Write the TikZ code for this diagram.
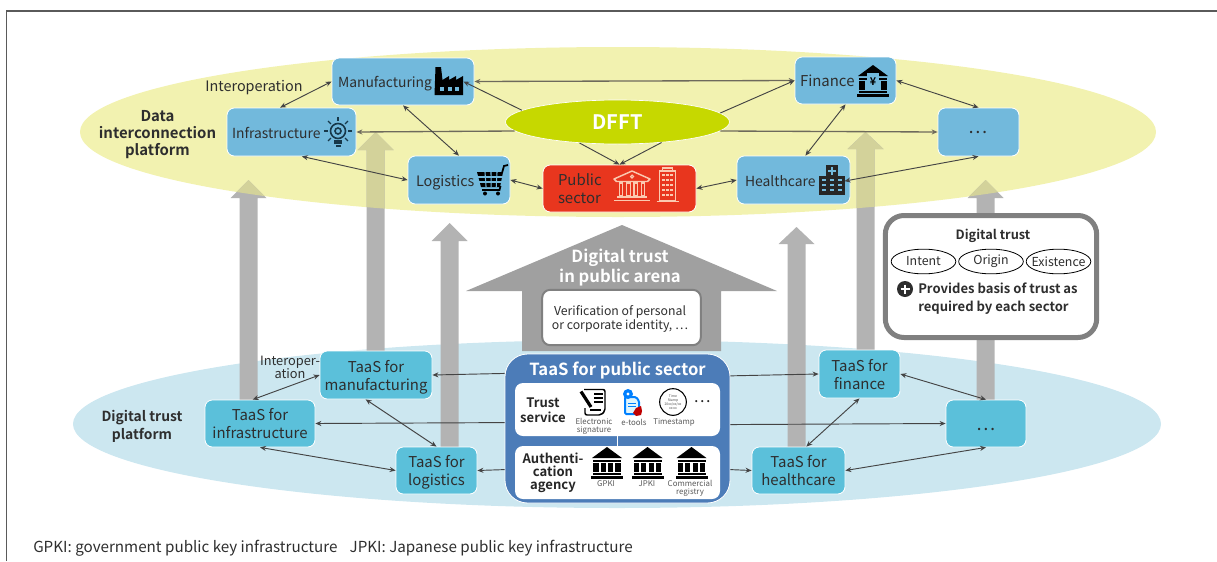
\documentclass[tikz,border=0pt]{standalone}
\usepackage{fontspec}
\setmainfont{Noto Sans CJK JP}[BoldFont={Noto Sans CJK JP Bold}]
\usetikzlibrary{arrows.meta,shapes.geometric,calc}
\definecolor{txt}{HTML}{2E2E2E}
\definecolor{yel}{HTML}{F2F2B0}
\definecolor{lblue}{HTML}{CCE7F0}
\definecolor{topbox}{HTML}{72B9DC}
\definecolor{botbox}{HTML}{5BC0DA}
\definecolor{redbox}{HTML}{E8361E}
\definecolor{dfftc}{HTML}{C6D800}
\definecolor{pubblue}{HTML}{4C7CB8}
\definecolor{arrgray}{HTML}{B3B3B3}
\definecolor{arrolive}{HTML}{D3D29A}
\definecolor{housegray}{HTML}{A0A0A0}
\definecolor{framegray}{HTML}{808080}
\definecolor{conncol}{HTML}{444444}
\definecolor{longcol}{HTML}{6E6A5C}
\definecolor{salmon}{HTML}{FBC9B0}
\definecolor{bulbc}{HTML}{17384A}
\newcommand{\grayshaft}[4]{(#1-9,#4) -- (#1-9,#3) -- (#1-18,#3) -- (#1,#2) -- (#1+18,#3) -- (#1+9,#3) -- (#1+9,#4) -- cycle}
\tikzset{
  topn/.style n args={4}{draw=white,line width=.6pt,fill=topbox,rounded corners=5.5pt,minimum height=#2,text width=#3,inner xsep=#4,inner ysep=0pt,align=left,text=txt,text height=11pt,text depth=1.7pt,font=\fontsize{10.4pt}{13.5pt}\selectfont},
  botn/.style n args={2}{draw=white,line width=.6pt,fill=botbox,rounded corners=5.5pt,minimum width=#1,minimum height=#2,inner sep=0pt,align=center,text=txt,text height=24.9pt,text depth=1.7pt,font=\fontsize{11.2pt}{13.5pt}\selectfont},
  conn/.style={draw=conncol,line width=.7pt,{Stealth[length=4.5pt,width=3.8pt]}-{Stealth[length=4.5pt,width=3.8pt]}},
  onearr/.style={draw=conncol,line width=.7pt,-{Stealth[length=4.5pt,width=3.8pt]}},
  longconn/.style={draw=longcol,line width=1pt},
  lab/.style={inner sep=0pt,align=center,text=txt},
  smallcap/.style={inner sep=0pt,align=center,text=black!65,font=\fontsize{5.9pt}{6.2pt}\selectfont},
  whitebox/.style={fill=white,rounded corners=6pt,minimum width=153.75pt,inner sep=0pt},
  trustel/.style={ellipse,draw=black,line width=.6pt,fill=white,inner sep=0pt,minimum width=48.5pt,minimum height=18.5pt,text=txt,font=\fontsize{9.3pt}{11pt}\selectfont},
  pics/bankicon/.style={code={
    \fill[#1] (-15,-5) -- (0,-16) -- (15,-5) -- cycle;
    \fill[#1] (-14,-3.5) rectangle (14,-1.5);
    \foreach \cx in {-11,-3.7,3.7,11}{\fill[#1] (\cx-2.6,-.5) rectangle (\cx+2.6,9);}
    \fill[#1] (-14,10) rectangle (14,12);
    \fill[#1] (-16,13) rectangle (16,16);
  }},
  pics/factoryicon/.style={code={
    \fill[black] (-14.5,14) -- (-13.5,-14) -- (-8,-14) -- (-6.5,-1) -- (0,-5) -- (0,-1) -- (7,-5) -- (7,-1) -- (14,-5) -- (14,14) -- cycle;
    \foreach \cx in {-7,0.5,8}{\fill[topbox] (\cx-2,6) rectangle (\cx+2,10);}
  }},
  pics/bulbicon/.style={code={
    \draw[bulbc,line width=1.2pt] (0,0) circle (7.5);
    \draw[bulbc,line width=1.2pt] (0,0) circle (3);
    \foreach \a in {0,45,135,180,225,315}{\draw[bulbc,line width=1pt] (\a:10) -- (\a:14);}
    \draw[bulbc,line width=1pt] (0,-10) -- (0,-14);
    \fill[bulbc] (-4,9) rectangle (4,13);
    \fill[bulbc] (-2.5,14) rectangle (2.5,16);
  }},
  pics/carticon/.style={code={
    \fill[black] (-15,-8) -- (11,-8) -- (8,7) -- (-11,7) -- cycle;
    \foreach \cx in {-7,-1,5}{\draw[topbox,line width=.8pt] (\cx,-8) -- (\cx*.85,7);}
    \foreach \cy in {-3,2}{\draw[topbox,line width=.8pt] (-15,\cy) -- (11,\cy);}
    \draw[black,line width=1.3pt] (10,-7) -- (12,-14) -- (16,-15);
    \draw[black,line width=1.3pt] (8.5,6) -- (7.5,10) -- (-10,10);
    \fill[black] (-7,13.5) circle (2);
    \fill[black] (6,13.5) circle (2);
  }},
  pics/hospicon/.style={code={
    \fill[black!85] (-13,-4) rectangle (13,15);
    \fill[black!85] (-6,-15) rectangle (6,-3);
    \fill[topbox] (-1.3,-13) rectangle (1.3,-5);
    \fill[topbox] (-4,-10.3) rectangle (4,-7.7);
    \foreach \cx in {-8,0,8}\foreach \cy in {0,5,10}{\fill[topbox] (\cx-2,\cy-1.2) rectangle (\cx+2,\cy+1.2);}
  }},
  pics/pubbank/.style={code={
    \draw[salmon,line width=1.1pt,line join=round] (-18,-7) -- (0,-15) -- (18,-7) -- (15.5,-4.5) -- (-15.5,-4.5) -- cycle;
    \draw[salmon,line width=.8pt] (0,-9.5) circle (1.5);
    \foreach \cx in {-11,-3.7,3.7,11}{\draw[salmon,line width=.9pt] (\cx-1.8,-3) rectangle (\cx+1.8,10);}
    \draw[salmon,line width=1pt] (-15,11) -- (15,11);
    \draw[salmon,line width=1.2pt] (-18,14.5) -- (18,14.5);
  }},
  pics/pubtower/.style={code={
    \draw[salmon,line width=.9pt] (-8,-14) -- (8,-14) -- (8,16) -- (-8,16) -- cycle;
    \draw[salmon,line width=.8pt] (-5,-14) -- (-5,-17) -- (5,-17) -- (5,-14);
    \foreach \cx in {-4,0,4}\foreach \cy in {-10,-5,0,5,10}{\fill[salmon] (\cx-1.2,\cy-1.4) rectangle (\cx+1.2,\cy+1.4);}
    \draw[salmon,line width=1.2pt] (-11,16.5) -- (11,16.5);
  }},
}
\begin{document}
\begin{tikzpicture}[x=.75pt,y=-.75pt]
\useasboundingbox (0,0) rectangle (1217,561);
% frame
\draw[color=framegray!70!black,line width=.8pt] (6.5,561) -- (6.5,11) -- (1217,11);
% platforms
\fill[yel] (618,132) ellipse [x radius=538,y radius=85];
\fill[lblue] (617,424) ellipse [x radius=544,y radius=84];
% tall arrows
\fill[arrgray] \grayshaft{248.5}{180}{198}{400};
\fill[arrgray] \grayshaft{375.5}{132}{150}{351};
\fill[arrgray] \grayshaft{449.5}{223}{241}{447};
\fill[arrgray] \grayshaft{796.5}{227}{244}{447};
\fill[arrgray] \grayshaft{865.5}{132}{149}{350};
\fill[arrgray] \grayshaft{985.5}{180}{198}{400};
\begin{scope}
  \clip (618,132) ellipse [x radius=538,y radius=85];
  \fill[arrolive] \grayshaft{248.5}{180}{198}{400};
  \fill[arrolive] \grayshaft{375.5}{132}{150}{351};
  \fill[arrolive] \grayshaft{865.5}{132}{149}{350};
  \fill[arrolive] \grayshaft{985.5}{180}{198}{400};
\end{scope}
% house arrow
\fill[housegray] (522,351) -- (522,291) -- (466,291) -- (622,225) -- (777,291) -- (721,291) -- (721,351) -- cycle;
\node[lab,text=white,font=\fontsize{12.5pt}{15pt}\selectfont\bfseries] (housetxt) at (620,267.5) {Digital trust\\in public arena};
\node[draw=framegray,line width=1.5pt,fill=white,rounded corners=6pt,minimum width=119pt,minimum height=41.5pt,inner sep=0pt] (verif) at (621.5,317.5) {};
\node[lab,font=\fontsize{9.2pt}{10.5pt}\selectfont] (veriftxt) at (620,319) {Verification of personal\\or corporate identity, …};
% upper nodes
\node[topn={142}{35.25pt}{97.5pt}{4.5pt}] (mfg) at (403,81.5) {Manufacturing};
\node[topn={129}{36pt}{89.25pt}{3.75pt}] (infra) at (291.5,132) {Infrastructure};
\node[topn={102}{36pt}{64.5pt}{6pt},font=\fontsize{10.8pt}{13.5pt}\selectfont] (logi) at (459,180) {Logistics};
\node[topn={153}{35.25pt}{92.25pt}{11.25pt},fill=redbox,text height=9.5pt,text depth=13.3pt,font=\fontsize{11.2pt}{13.5pt}\selectfont] (pub) at (619.5,188.5) {Public\\sector};
\node[topn={113}{36pt}{72.75pt}{6pt}] (health) at (793.5,180) {Healthcare};
\node[topn={101}{35.25pt}{68.25pt}{3.75pt},font=\fontsize{11.2pt}{13.5pt}\selectfont] (fin) at (845.5,80.5) {Finance};
\node[draw=white,line width=.6pt,fill=topbox,rounded corners=5.5pt,minimum width=60.75pt,minimum height=36pt,inner sep=0pt,text=txt,font=\fontsize{13.5pt}{14pt}\selectfont] (dots) at (978.5,132) {…};
\pic at (449,81) {factoryicon};
\pic at (338,131) {bulbicon};
\pic at (492,180) {carticon};
\pic at (832,180) {hospicon};
\pic at (873,81) {bankicon=black};
\fill[topbox] (867,73) rectangle (879,90);
\node[inner sep=0pt,font=\fontsize{8pt}{9pt}\selectfont\bfseries] (yen) at (873,82) {¥};
\pic at (632,186) {pubbank};
\pic at (667.5,185) {pubtower};
% DFFT
\node[ellipse,draw=white,line width=.5pt,fill=dfftc,minimum width=168pt,minimum height=33pt,inner sep=0pt,text=white,font=\fontsize{15pt}{17pt}\selectfont\bfseries] (dfft) at (617.5,122) {DFFT};
% lower nodes
\node[botn={84pt}{36pt}] (tmfg) at (376,375) {TaaS for\\manufacturing};
\node[botn={82.5pt}{35.25pt}] (tinf) at (260,423.5) {TaaS for\\infrastructure};
\node[botn={60.75pt}{35.25pt}] (tlog) at (436.5,470.5) {TaaS for\\logistics};
\node[botn={60.75pt}{36pt}] (tfin) at (859.5,374) {TaaS for\\finance};
\node[botn={60pt}{35.25pt},text height=11pt,text depth=1pt,font=\fontsize{13.5pt}{14pt}\selectfont] (tdots) at (986,423.5) {…};
\node[botn={69.75pt}{35.25pt}] (thealth) at (798.5,470.5) {TaaS for\\healthcare};
% public TaaS
\node[draw=white,line width=.6pt,fill=pubblue,rounded corners=17pt,minimum width=168.75pt,minimum height=111.75pt,inner sep=0pt] (tpub) at (617.5,428.5) {};
\node[lab,text=white,font=\fontsize{12.5pt}{15pt}\selectfont\bfseries] (tpubtitle) at (617.5,371) {TaaS for public sector};
\node[whitebox,minimum height=39.75pt] (trust) at (617.5,409.5) {};
\node[whitebox,minimum height=39.75pt] (auth) at (617.5,472.5) {};
\draw[white,line width=.6pt] (trust.south) -- (auth.north);
\node[lab,font=\fontsize{9.8pt}{11.2pt}\selectfont\bfseries,text=black!85] (trustlab) at (543,410) {Trust\\service};
\node[lab,font=\fontsize{9.8pt}{9.8pt}\selectfont\bfseries,text=black!85] (authlab) at (553,473) {Authenti-\\cation\\agency};
% signature icon
\draw[black,line width=1.1pt,rounded corners=1.5pt] (584,389.5) -- (605,389.5) -- (605,411) -- (601,415) -- (585,415) -- (585,408);
\foreach \cy in {394,398,402}{\draw[black,line width=1pt] (594,\cy) -- (603,\cy);}
\draw[black,line width=2.4pt] (581,391.5) -- (591,407);
\draw[black,line width=1pt] (590,410) -- (601,410);
% e-tools icon
\draw[color=blue!50!cyan,fill=cyan!12,line width=1.5pt,rounded corners=1pt] (625,397) -- (636,397) -- (639,401) -- (639,414) -- (625,414) -- cycle;
\fill[color=blue!50!cyan] (628,394) circle (5);
\fill[white] (628,394) circle (1.6);
\draw[color=blue!50!cyan,line width=.7pt] (628,403) -- (636,403) (628,406.5) -- (636,406.5);
\fill[red!75!black] (636,408) -- (641,406) -- (642,411) -- (641,415) -- (636,416) -- (633,413) -- cycle;
% timestamp icon
\node[circle,draw=black,line width=.8pt,fill=white,minimum size=20pt,inner sep=0pt,align=center,font=\fontsize{2.6pt}{3pt}\selectfont,text=black!70] (tstamp) at (673,402) {Time\\Stamp\\20xx/xx/xx\\xx:xx};
\node[lab,font=\fontsize{12pt}{12pt}\selectfont,text=black!85] (tsdots) at (702,402) {…};
\node[smallcap] (c1) at (594,426) {Electronic\\signature};
\node[smallcap] (c2) at (634,422) {e-tools};
\node[smallcap] (c3) at (674,422) {Timestamp};
\pic at (607,463) {bankicon=black};
\pic at (647.5,463) {bankicon=black};
\pic at (691.5,463) {bankicon=black};
\node[smallcap] (c4) at (606,484) {GPKI};
\node[smallcap] (c5) at (647,484) {JPKI};
\node[smallcap] (c6) at (690,488) {Commercial\\registry};
% upper connectors
\draw[conn,longconn] (mfg.east) -- (fin.west);
\draw[onearr] (dfft.173) -- ($(mfg.east)+(-11,0)$);
\draw[onearr] (dfft.5) -- (fin.west);
\draw[onearr] (dfft.209) -- (pub.north);
\draw[onearr] (dfft.335) -- (pub.north);
\draw[onearr,longconn] (dfft.185.7) -- (infra.east);
\draw[onearr,longconn] (dfft.-5.7) -- (dots.west);
\draw[conn] (mfg.west) -- (infra.115.6);
\draw[conn] (mfg.south) -- (logi.north);
\draw[conn] (infra.293.6) -- (logi.west);
\draw[conn] (logi.east) -- (pub.west);
\draw[conn] (pub.east) -- (health.west);
\draw[conn] (fin.south) -- (health.64.4);
\draw[conn] (fin.east) -- (dots.north);
\draw[conn,shorten <=-4.5pt] (health.east) -- (dots.south);
% lower connectors
\draw[conn] (tmfg.west) -- (tinf.107.4);
\draw[conn] (tmfg.247.4) -- (tlog.north);
\draw[conn] (tinf.south) -- (tlog.west);
\draw[onearr] (tpub.154.6) -- (tmfg.east);
\draw[onearr] (tpub.177.5) -- (tinf.east);
\draw[onearr] (tpub.200.5) -- (tlog.east);
\draw[onearr] (tpub.25.8) -- (tfin.west);
\draw[onearr] (tpub.2.5) -- (tdots.west);
\draw[onearr] (tpub.-20.5) -- (thealth.west);
\draw[conn] (tfin.east) -- (tdots.north);
\draw[conn] (tfin.south) -- (thealth.72.3);
\draw[conn] (thealth.east) -- (tdots.south);
% digital trust panel
\node[draw=framegray,line width=3.75pt,fill=white,rounded corners=14pt,minimum width=158.5pt,minimum height=91.5pt,inner sep=0pt] (dtbox) at (991,276.5) {};
\node[lab,font=\fontsize{9.6pt}{11pt}\selectfont\bfseries] (dttitle) at (993,236) {Digital trust};
\node[trustel] (intent) at (923.5,261.5) {\makebox[0pt]{Intent}};
\node[trustel] (origin) at (991,261.5) {\makebox[0pt]{Origin}};
\node[trustel] (exist) at (1058.5,261.5) {\makebox[0pt]{Existence}};
\node[circle,fill=txt,minimum size=12pt,inner sep=0pt] (plus) at (905,289) {};
\draw[white,line width=1.4pt] (plus.center) ++(-4.5,0) -- ++(9,0) (plus.center) ++(0,-4.5) -- ++(0,9);
\node[lab,anchor=north west,align=left,font=\fontsize{9.8pt}{12.9pt}\selectfont\bfseries] (provides) at (918,283) {Provides basis of trust as\\required by each sector};
% labels
\node[lab,font=\fontsize{10.8pt}{13pt}\selectfont] (interop) at (254,88) {Interoperation};
\node[lab,font=\fontsize{9.6pt}{10pt}\selectfont] (interop2) at (290,367.5) {Interoper-\\ation};
\node[lab,font=\fontsize{11.2pt}{12.6pt}\selectfont\bfseries] (dataplat) at (157.5,134.5) {Data\\interconnection\\platform};
\node[lab,font=\fontsize{10.4pt}{13.5pt}\selectfont\bfseries] (trustplat) at (142,426) {Digital trust\\platform};
\node[lab,anchor=west,font=\fontsize{11.4pt}{13pt}\selectfont] (footer) at (33,548) {GPKI: government public key infrastructure\hspace{.8em}JPKI: Japanese public key infrastructure};
\end{tikzpicture}
\end{document}
